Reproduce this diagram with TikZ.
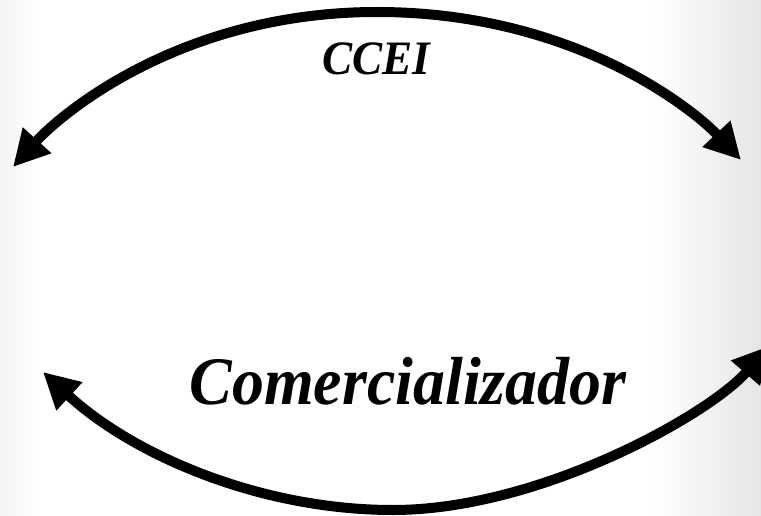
\documentclass[tikz,border=0pt]{standalone}
\usepackage{fontspec}
\setmainfont{Liberation Serif}
\usetikzlibrary{arrows.meta}
\begin{document}
\begin{tikzpicture}[x=1pt,y=-1pt,
  conn/.style={line width=10pt,
    {Triangle[length=36pt,width=36pt]}-{Triangle[length=36pt,width=36pt]}},
  lbl/.style={inner sep=0pt,anchor=base}]
\useasboundingbox (0,0) rectangle (761,516);
\fill[white] (0,0) rectangle (761,516);
\shade[left color=white,right color=black!10] (650,0) rectangle (761,516);
\shade[right color=white,left color=black!4] (0,0) rectangle (40,516);
% end points
\coordinate (tl) at (13,167);
\coordinate (tm) at (377,12);
\coordinate (tr) at (741,160);
\coordinate (bl) at (43,372);
\coordinate (bm) at (393,510);
\coordinate (br) at (769,346);
\draw[conn] (tl) .. controls (60,115) and (180,12) .. (tm)
                 .. controls (574,12) and (694,110) .. (tr);
\draw[conn] (bl) .. controls (133,455) and (260,510) .. (bm)
                 .. controls (540,510) and (710,414) .. (br);
\node[lbl,font=\bfseries\itshape\fontsize{48}{52}\selectfont,xscale=0.94] (ccei) at (376,75) {CCEI};
\node[lbl,font=\bfseries\itshape\fontsize{68}{72}\selectfont,xscale=0.94] (com) at (408,404) {Comercializador};
\end{tikzpicture}
\end{document}
